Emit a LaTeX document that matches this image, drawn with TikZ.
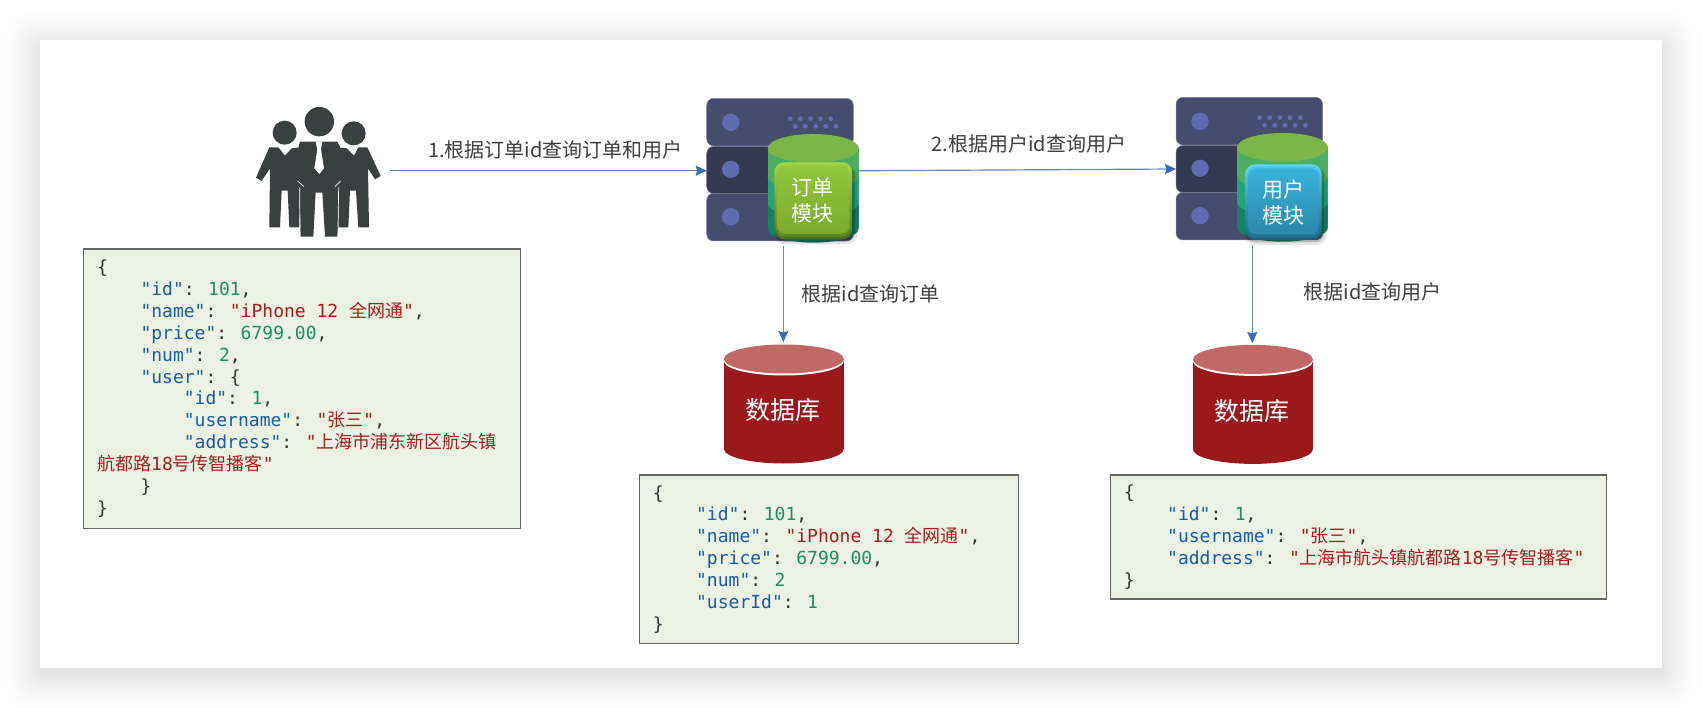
\documentclass[tikz,border=0pt]{standalone}
\usepackage{fontspec}
\usetikzlibrary{arrows.meta,shapes.geometric}
\setmainfont{Liberation Sans}
\setmonofont{DejaVu Sans Mono}
\newfontfamily\cjk{Noto Sans CJK SC}
\newfontfamily\jsonmono{DejaVu Sans Mono}
\definecolor{srvA}{HTML}{454C6E}
\definecolor{srvB}{HTML}{343A52}
\definecolor{srvC}{HTML}{5F6DB0}
\definecolor{peop}{HTML}{3A3F3F}
\definecolor{txtc}{HTML}{404040}
\definecolor{arrl}{HTML}{5F8AC6}
\definecolor{arrh}{HTML}{3A6DB5}
\definecolor{dbb}{HTML}{99191D}
\definecolor{dbt}{HTML}{C26868}
\definecolor{jsbg}{HTML}{EBF1E3}
\definecolor{jsln}{HTML}{666666}
\definecolor{jk}{HTML}{1A5BA8}
\definecolor{jn}{HTML}{1F8F5F}
\definecolor{strc}{HTML}{A61E1E}
\definecolor{jp}{HTML}{333333}
\definecolor{cyT}{HTML}{7AB648}
\definecolor{cyA}{HTML}{4CAE60}
\definecolor{cyB}{HTML}{22A57A}
\definecolor{cyC}{HTML}{178066}
\newcommand\JK[1]{\textcolor{jk}{#1}}
\newcommand\JN[1]{\textcolor{jn}{#1}}
\newcommand\JStr[1]{\textcolor{strc}{\jsonmono #1}}
\newcommand\JZh[1]{\textcolor{strc}{\cjk #1}}
\newcommand\Ia{\hspace*{43.35pt}}
\newcommand\Ib{\hspace*{86.7pt}}
\newcommand\Sp{\hspace{10.84pt}}
\newcommand\Cl{:\hspace{13.5pt}}
\tikzset{
  arrowline/.style={draw=arrl,line width=1.2pt,-{Stealth[length=11pt,width=10pt,inset=1.5pt,color=arrh]}},
  caption/.style={font=\cjk\fontsize{20}{24}\selectfont,text=txtc,inner sep=0pt},
  dblabel/.style={font=\cjk\fontsize{25}{30}\selectfont,text=white,inner sep=0pt},
  modlabel/.style={font=\cjk\fontsize{21}{26}\selectfont,text=white,inner sep=0pt,align=center},
  jsonbox/.style={draw=jsln,fill=jsbg,line width=1.3pt,outer sep=0pt,anchor=north west,inner xsep=13.5pt,inner ysep=0pt,align=left,text=jp,
    font=\jsonmono\fontsize{18}{21.87}\selectfont},
  srvbox/.style={draw=#1!70!white,line width=.5pt,fill=#1,rounded corners=7pt,outer sep=0pt},
  srvdot/.style={fill=srvC},
}
% args: name, dx, dy
\newcommand\serverstack[3]{%
  \begin{scope}[shift={(#2,#3)}]
    \node[srvbox=srvA,minimum width=146.6pt,minimum height=47.7pt,anchor=north west] (#1top) at (706.7,98.3) {};
    \node[srvbox=srvA,minimum width=146.6pt,minimum height=47.7pt,anchor=north west] (#1bot) at (706.7,193.3) {};
    \node[srvbox=srvB,minimum width=146.6pt,minimum height=47pt,anchor=north west] (#1mid) at (706.7,146.5) {};
    \fill[srvdot] (730.7,122.3) circle (8.7pt);
    \fill[srvdot] (730.7,169.3) circle (8.7pt);
    \fill[srvdot] (730.7,216.7) circle (8.7pt);
    \foreach \xx in {790.3,800.3,810.7,820.7,831}{\fill[srvdot] (\xx,118.7) circle (2.4pt);}
    \foreach \xx in {795.3,805.3,815.7,825.7,836}{\fill[srvdot] (\xx,126.3) circle (2.4pt);}
  \end{scope}}
\newcommand\bandcyl[2]{%
  \begin{scope}[shift={(#1,#2)}]
    \fill[cyC] (767.7,203) rectangle (858.7,228.4);
    \fill[cyC] (813.2,228.4) ellipse [x radius=45.5pt,y radius=14.3pt];
    \fill[cyB] (767.7,176.7) rectangle (858.7,203);
    \fill[cyB] (813.2,203) ellipse [x radius=45.5pt,y radius=14.3pt];
    \fill[cyA] (767.7,148.3) rectangle (858.7,176.7);
    \fill[cyA] (813.2,176.7) ellipse [x radius=45.5pt,y radius=14.3pt];
    \fill[cyT] (813.2,148.3) ellipse [x radius=45.5pt,y radius=14.3pt];
  \end{scope}}
% args: x0,y0,x1,y1, colour prefix
\newcommand\modbutton[5]{%
  \fill[black,opacity=.10,rounded corners=10pt] (#1,#2+4) rectangle (#3+5,#4+5);
  \fill[black,opacity=.18,rounded corners=9pt] (#1+1,#2+4) rectangle (#3+2.5,#4+2.5);
  \shade[rounded corners=10pt,top color=#5A,middle color=#5B,bottom color=#5C] (#1,#2) rectangle (#3,#4);
  \shade[rounded corners=9pt,top color=#5A!50!#5D,middle color=#5B!50!#5E,bottom color=#5C!60!#5E] (#1+1.5,#2+2) rectangle (#3-1.5,#4-2.5);
  \shade[rounded corners=8pt,top color=#5D,bottom color=#5E] (#1+3,#2+4) rectangle (#3-3,#4-5.5);}
\newcommand\dbcyl[2]{%
  \begin{scope}[shift={(#1,#2)}]
    \fill[dbb] (724,359) rectangle (843.7,449);
    \fill[dbb] (783.85,449) ellipse [x radius=59.85pt,y radius=14.5pt];
    \fill[white] (783.85,361) ellipse [x radius=59.85pt,y radius=14.5pt];
    \fill[dbt] (783.85,359) ellipse [x radius=59.85pt,y radius=14.5pt];
  \end{scope}}
\definecolor{gA}{HTML}{A8D84A}
\definecolor{gB}{HTML}{7EA82F}
\definecolor{gC}{HTML}{4C6E1A}
\definecolor{gD}{HTML}{92C63C}
\definecolor{gE}{HTML}{7CAA2E}
\definecolor{bA}{HTML}{5FD8F5}
\definecolor{bB}{HTML}{2F93B8}
\definecolor{bC}{HTML}{1E5F7A}
\definecolor{bD}{HTML}{3AB2DC}
\definecolor{bE}{HTML}{2A88AC}
\begin{document}
\begin{tikzpicture}[x=1pt,y=-1pt]
\useasboundingbox (0,0) rectangle (1702,708);
\clip (0,0) rectangle (1702,708);
% page shadow
\foreach \r in {46,45,...,1}{
  \pgfmathsetmacro\pp{11*(1-\r/47)*(1-\r/47)}
  \fill[black!\pp!white,rounded corners=\r pt] (40-\r,46-\r) rectangle (1662+\r,674+\r);
}
\fill[white] (40,40) rectangle (1662,668);
% people
\begin{scope}[shift={(250,100)},x=.33333pt,y=-.33333pt]
  \fill[peop] (104,98) circle (12pt);
  \fill[peop] (311,100) circle (12pt);
  \fill[peop] (58,142) -- (85,142) -- (105,167) -- (125,145) -- (150,142) -- (150,250) -- (148,382) -- (118,382) -- (113,272) -- (95,272) -- (90,382) -- (58,382) -- (60,205) -- (35,243) -- (18,233) -- cycle;
  \fill[peop] (352,142) -- (325,142) -- (312,167) -- (290,145) -- (265,142) -- (265,382) -- (295,382) -- (300,272) -- (318,272) -- (325,382) -- (357,382) -- (354,205) -- (375,238) -- (392,228) -- cycle;
  \fill[peop] (208,65) circle (14.7pt);
  \fill[peop] (150,125) -- (262,125) -- (270,140) -- (270,250) -- (262,410) -- (225,410) -- (217,278) -- (197,278) -- (190,410) -- (152,410) -- (146,250) -- (146,140) -- cycle;
  \draw[white,line width=.7pt] (143,243) -- (162,260) (149,262) -- (150,382);
  \draw[white,line width=.7pt] (272,243) -- (255,260) (266,262) -- (264,382);
  \fill[white] (197,125) -- (217,125) -- (213,148) -- (222,205) -- (208,222) -- (193,205) -- (202,148) -- cycle;
\end{scope}
% servers
\serverstack{sa}{0}{0}
\serverstack{sb}{469.3}{-1}
% connector ends
\coordinate (peopleR) at (390,170.7);
\coordinate (saOut) at (855,170.8);
\coordinate (saDown) at (783.3,246);
\coordinate (sbDown) at (1252.3,245);
\coordinate (dbaIn) at (783.3,342);
\coordinate (dbbIn) at (1252.3,343);
\draw[arrowline] (peopleR) -- (samid.west |- peopleR);
\draw[arrowline] (saOut) -- (sbmid.west);
% module cylinders and buttons
\bandcyl{0}{0}
\bandcyl{469.3}{-1}
\modbutton{774.3}{162.3}{852.3}{239.3}{g}
\modbutton{1245.3}{164.3}{1321.7}{240}{b}
\node[modlabel] (moda) at (812.7,200.3) {订单\\模块};
\node[modlabel] (modb) at (1283.3,202.8) {用户\\模块};
% vertical connectors
\draw[arrowline] (saDown) -- (dbaIn);
\draw[arrowline] (sbDown) -- (dbbIn);
% databases
\dbcyl{0}{0}
\dbcyl{469.1}{0.4}
\node[dblabel] (dba) at (782.7,410) {数据库};
\node[dblabel] (dbb) at (1252,411) {数据库};
% captions
\node[caption] (capa) at (555.5,150) {1.根据订单id查询订单和用户};
\node[caption] (capb) at (1029,143.5) {2.根据用户id查询用户};
\node[caption] (capc) at (870.5,294) {根据id查询订单};
\node[caption] (capd) at (1372.5,292) {根据id查询用户};
% json boxes
\node[jsonbox,text width=410pt,minimum height=279.3pt] (jsa) at (83.7,249) {%
\{\\
\Ia\JK{"id"}\Cl\JN{101},\\
\Ia\JK{"name"}\Cl\JStr{"iPhone\Sp 12\Sp}\JZh{全网通}\JStr{"},\\
\Ia\JK{"price"}\Cl\JN{6799.00},\\
\Ia\JK{"num"}\Cl\JN{2},\\
\Ia\JK{"user"}\Cl\{\\
\Ib\JK{"id"}\Cl\JN{1},\\
\Ib\JK{"username"}\Cl\JStr{"}\JZh{张三}\JStr{"},\\
\Ib\JK{"address"}\Cl\JStr{"}\JZh{上海市浦东新区航头镇}\\
\JZh{航都路}\JStr{18}\JZh{号传智播客}\JStr{"}\\
\Ia\}\\
\}};
\node[jsonbox,text width=352.4pt,minimum height=168.7pt] (jsb) at (639.3,475) {%
\{\\
\Ia\JK{"id"}\Cl\JN{101},\\
\Ia\JK{"name"}\Cl\JStr{"iPhone\Sp 12\Sp}\JZh{全网通}\JStr{"},\\
\Ia\JK{"price"}\Cl\JN{6799.00},\\
\Ia\JK{"num"}\Cl\JN{2}\\
\Ia\JK{"userId"}\Cl\JN{1}\\
\}};
\node[jsonbox,text width=469.4pt,minimum height=124pt] (jsc) at (1110.3,475) {%
\{\\
\Ia\JK{"id"}\Cl\JN{1},\\
\Ia\JK{"username"}\Cl\JStr{"}\JZh{张三}\JStr{"},\\
\Ia\JK{"address"}\Cl\JStr{"}\JZh{上海市航头镇航都路}\JStr{18}\JZh{号传智播客}\JStr{"}\\
\}};
\end{tikzpicture}
\end{document}
